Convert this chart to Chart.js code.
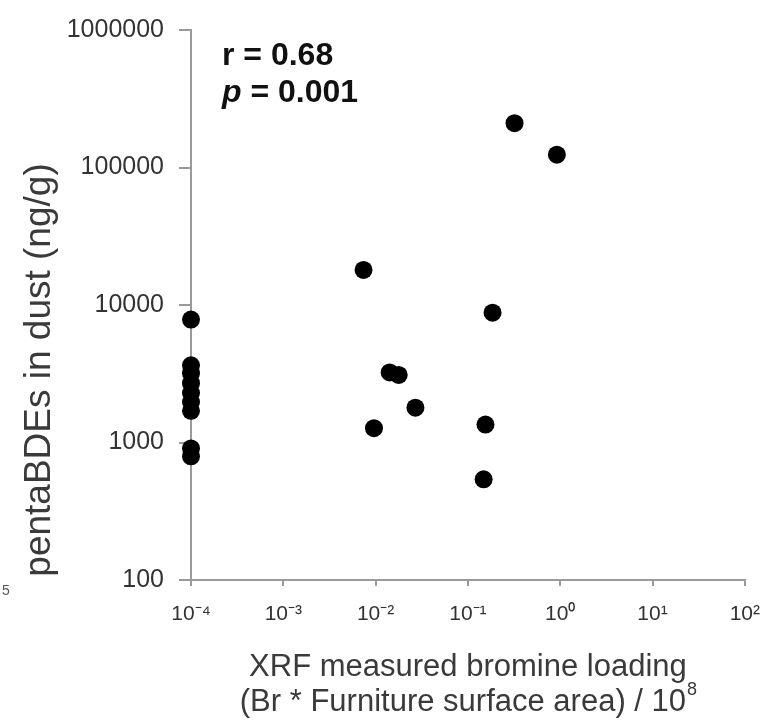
<!DOCTYPE html>
<html>
<head>
<meta charset="utf-8">
<script src="https://cdn.jsdelivr.net/npm/chart.js@4.4.0/dist/chart.umd.min.js"></script>
<style>
  html, body { margin: 0; padding: 0; background: #fff; }
  #wrap { width: 776px; height: 723px; }
</style>
</head>
<body>
<div id="wrap"><canvas id="scatterChart" width="776" height="723"></canvas></div>
<script>
// bromine loading (x) vs pentaBDE dust concentration (y)
const bromineLoading = [
  1e-4, 1e-4, 1e-4, 1e-4, 1e-4, 1e-4, 1e-4, 1e-4, 1e-4,
  0.0074, 0.32, 0.92, 0.185, 0.0142, 0.0178, 0.027, 0.0096, 0.155, 0.148
];
const pentaBDEs = [
  7840, 3640, 3190, 2700, 2290, 1970, 1700, 906, 793,
  18000, 210000, 124000, 8800, 3230, 3100, 1790, 1270, 1350, 540
];
const xTickExponents = [-4, -3, -2, -1, 0, 1, 2];
const yTickValues = [100, 1000, 10000, 100000, 1000000];

const SUP = { '-': '\u207B', '0': '\u2070', '1': '\u00B9', '2': '\u00B2', '3': '\u00B3',
  '4': '\u2074', '5': '\u2075', '6': '\u2076', '7': '\u2077', '8': '\u2078', '9': '\u2079' };
const sup = s => String(s).split('').map(c => SUP[c]).join('');

const axisColor = '#9a9a9a';
const textColor = '#333';
const font = 'Liberation Sans, Arial, sans-serif';

// titles and the r / p note are drawn on top of the chart
const textPlugin = {
  id: 'textPlugin',
  afterDraw(chart) {
    const ctx = chart.ctx;
    ctx.save();
    ctx.fillStyle = '#111';
    ctx.textBaseline = 'alphabetic';
    ctx.textAlign = 'left';
    ctx.font = 'bold 32px ' + font;
    ctx.fillText('r = 0.68', 222, 65);
    ctx.font = 'italic bold 32px ' + font;
    ctx.fillText('p', 222, 102);
    const pw = ctx.measureText('p').width;
    ctx.font = 'bold 32px ' + font;
    ctx.fillText(' = 0.001', 222 + pw, 102);

    // y title
    ctx.fillStyle = '#3a3a3a';
    ctx.save();
    ctx.translate(50, 370);
    ctx.rotate(-Math.PI / 2);
    ctx.textAlign = 'center';
    ctx.font = '37px ' + font;
    ctx.fillText('pentaBDEs in dust (ng/g)', 0, 0);
    ctx.restore();

    // x title
    const cx = (chart.chartArea.left + chart.chartArea.right) / 2;
    ctx.font = '31px ' + font;
    ctx.textAlign = 'center';
    ctx.fillText('XRF measured bromine loading', cx, 676);
    const line2 = '(Br * Furniture surface area) / 10';
    const w2 = ctx.measureText(line2).width;
    ctx.font = '18px ' + font;
    const ws = ctx.measureText('8').width;
    ctx.font = '31px ' + font;
    const x0 = cx - (w2 + ws) / 2;
    ctx.textAlign = 'left';
    ctx.fillText(line2, x0, 711);
    ctx.font = '18px ' + font;
    ctx.fillText('8', x0 + w2 + 1, 695);

    // stray glyph at the bottom left
    ctx.fillStyle = '#555';
    ctx.font = '14px ' + font;
    ctx.fillText('5', 2, 595);
    ctx.restore();
  }
};

new Chart(document.getElementById('scatterChart'), {
  type: 'scatter',
  data: {
    datasets: [{
      data: bromineLoading.map((x, i) => ({ x: x, y: pentaBDEs[i] })),
      backgroundColor: '#000',
      borderWidth: 0,
      pointRadius: 9,
      pointHoverRadius: 9,
      clip: false
    }]
  },
  options: {
    responsive: false,
    animation: false,
    layout: { padding: { top: 23, right: 27, left: 0, bottom: 0 } },
    plugins: { legend: { display: false }, tooltip: { enabled: false } },
    scales: {
      x: {
        type: 'logarithmic',
        min: 1e-4,
        max: 100,
        afterBuildTicks: scale => { scale.ticks = xTickExponents.map(e => ({ value: Math.pow(10, e) })); },
        afterFit: scale => { scale.height = 143; },
        ticks: {
          callback: (v, i) => '10' + sup(xTickExponents[i]),
          color: textColor,
          font: { family: font, size: 21 },
          padding: 16,
          maxRotation: 0,
          autoSkip: false
        },
        grid: { drawOnChartArea: false, color: axisColor, tickLength: 6, lineWidth: 2 },
        border: { color: axisColor, width: 2 }
      },
      y: {
        type: 'logarithmic',
        min: 100,
        max: 1000000,
        afterBuildTicks: scale => { scale.ticks = yTickValues.map(v => ({ value: v })); },
        afterFit: scale => { scale.width = 191; },
        ticks: {
          callback: v => String(v),
          color: textColor,
          font: { family: font, size: 25 },
          padding: 15,
          autoSkip: false
        },
        grid: { drawOnChartArea: false, color: axisColor, tickLength: 12, lineWidth: 2 },
        border: { color: axisColor, width: 2 }
      }
    }
  },
  plugins: [textPlugin]
});
</script>
</body>
</html>
